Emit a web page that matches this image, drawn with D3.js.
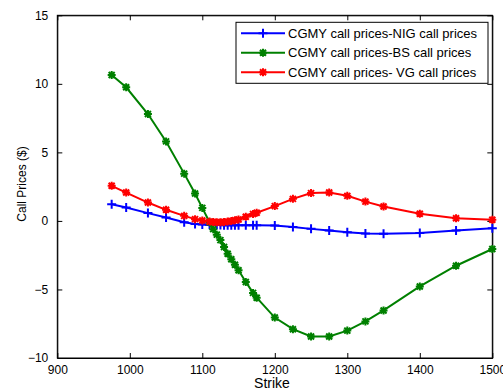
<!DOCTYPE html>
<html>
<head>
<meta charset="utf-8">
<script src="https://cdn.jsdelivr.net/npm/d3@7"></script>
<style>
body { margin: 0; background: #fff; }
svg { display: block; font-family: "Liberation Sans", Arial, sans-serif; }
</style>
</head>
<body>
<div class="container"></div>
<script>
var width = 503;
var height = 392;
var margin = {left: 57.3, top: 15.3, right: 10.7, bottom: 34};
var innerWidth = width - margin.left - margin.right;
var innerHeight = height - margin.top - margin.bottom;

// strike prices
var strikes = [975, 995, 1025, 1050, 1075, 1090, 1100, 1110, 1115, 1120, 1125, 1130, 1135, 1140, 1145,
  1150, 1160, 1170, 1175, 1200, 1225, 1250, 1275, 1300, 1325, 1350, 1400, 1450, 1500];
// price differences
var nigDiff = [1.22, 0.98, 0.57, 0.25, -0.09, -0.23, -0.26, -0.28, -0.29, -0.3, -0.3, -0.31, -0.31, -0.31, -0.31,
  -0.31, -0.32, -0.32, -0.32, -0.33, -0.45, -0.58, -0.70, -0.82, -0.92, -0.94, -0.89, -0.70, -0.53];
var bsDiff = [10.65, 9.75, 7.8, 5.8, 3.45, 2.0, 0.95, -0.1, -0.6, -1.0, -1.4, -1.9, -2.4, -2.8, -3.2,
  -3.6, -4.45, -5.25, -5.6, -7.05, -7.9, -8.43, -8.43, -8.0, -7.33, -6.53, -4.78, -3.27, -2.05];
var vgDiff = [2.56, 2.07, 1.34, 0.81, 0.37, 0.13, 0.03, -0.05, -0.08, -0.1, -0.1, -0.08, -0.05, 0.0, 0.05,
  0.1, 0.3, 0.5, 0.6, 1.08, 1.61, 2.03, 2.07, 1.83, 1.41, 1.05, 0.52, 0.2, 0.08];

var seriesNames = ['CGMY call prices-NIG call prices', 'CGMY call prices-BS call prices', 'CGMY call prices- VG call prices'];
var xTicks = [900, 1000, 1100, 1200, 1300, 1400, 1500];
var yTicks = [-10, -5, 0, 5, 10, 15];

var series = [
  {name: seriesNames[0], values: nigDiff, color: '#0000ff', marker: 'plus'},
  {name: seriesNames[1], values: bsDiff, color: '#008000', marker: 'star'},
  {name: seriesNames[2], values: vgDiff, color: '#ff0000', marker: 'star'}
];

var markerPath = function(type) {
  if (type === 'plus') return 'M-4.5,0H4.5M0,-4.5V4.5';
  return 'M-4,0H4M0,-4V4M-3,-3L3,3M-3,3L3,-3';
};

var translate = function(x, y) {
  return 'translate(' + x + ',' + y + ')';
};

var svg = d3.select('.container').append('svg')
  .attr('width', width)
  .attr('height', height);

var xScale = d3.scaleLinear().domain([900, 1500]).range([0, innerWidth]);
var yScale = d3.scaleLinear().domain([-10, 15]).range([innerHeight, 0]);

var g = svg.append('g').attr('transform', translate(margin.left, margin.top));

// axes with inward ticks
var xAxis = d3.axisBottom(xScale).tickValues(xTicks).tickFormat(d3.format('d'))
  .tickSizeInner(-5).tickSizeOuter(0).tickPadding(7);
var yAxis = d3.axisLeft(yScale).tickValues(yTicks).tickFormat(d3.format('d'))
  .tickSizeInner(-5).tickSizeOuter(0).tickPadding(9);

g.append('g').attr('transform', translate(0, innerHeight)).call(xAxis);
g.append('g').call(yAxis);
g.append('g').attr('class', 'mirror')
  .call(d3.axisTop(xScale).tickValues(xTicks).tickSizeInner(-5).tickSizeOuter(0));
g.append('g').attr('class', 'mirror').attr('transform', translate(innerWidth, 0))
  .call(d3.axisRight(yScale).tickValues(yTicks).tickSizeInner(-5).tickSizeOuter(0));
g.selectAll('.mirror text').remove();

g.selectAll('.domain').attr('stroke', '#000');
g.selectAll('.tick line').attr('stroke', '#000');
g.selectAll('.tick text').attr('fill', '#000').style('font-size', '12px');

g.append('rect')
  .attr('width', innerWidth).attr('height', innerHeight)
  .attr('fill', 'none').attr('stroke', '#000').attr('stroke-width', 1);

var line = d3.line()
  .x(function(d) { return xScale(d[0]); })
  .y(function(d) { return yScale(d[1]); });

series.forEach(function(s) {
  var pts = strikes.map(function(k, i) { return [k, s.values[i]]; });
  g.append('path')
    .datum(pts)
    .attr('d', line)
    .attr('fill', 'none')
    .attr('stroke', s.color)
    .attr('stroke-width', 2);
  g.selectAll(null).data(pts).enter()
    .append('path')
    .attr('transform', function(d) { return translate(xScale(d[0]), yScale(d[1])); })
    .attr('d', markerPath(s.marker))
    .attr('stroke', s.color)
    .attr('stroke-width', 2)
    .attr('fill', 'none');
});

// axis labels
svg.append('text')
  .attr('x', 272).attr('y', 388)
  .attr('text-anchor', 'middle')
  .style('font-size', '14px')
  .text('Strike');

svg.append('text')
  .attr('transform', translate(26, 184) + ' rotate(-90)')
  .attr('text-anchor', 'middle')
  .style('font-size', '12px')
  .text('Call Prices ($)');

// legend
var legend = svg.append('g').attr('transform', translate(236, 22.3));
legend.append('rect')
  .attr('width', 252).attr('height', 61)
  .attr('fill', '#fff').attr('stroke', '#000');

series.forEach(function(s, i) {
  var ly = 11 + i * 19.5;
  legend.append('line')
    .attr('x1', 5).attr('x2', 49).attr('y1', ly).attr('y2', ly)
    .attr('stroke', s.color).attr('stroke-width', 2);
  legend.append('path')
    .attr('transform', translate(27, ly))
    .attr('d', markerPath(s.marker))
    .attr('stroke', s.color).attr('stroke-width', 2);
  legend.append('text')
    .attr('x', 52).attr('y', ly + 4.5)
    .style('font-size', '13px')
    .text(s.name);
});
</script>
</body>
</html>
